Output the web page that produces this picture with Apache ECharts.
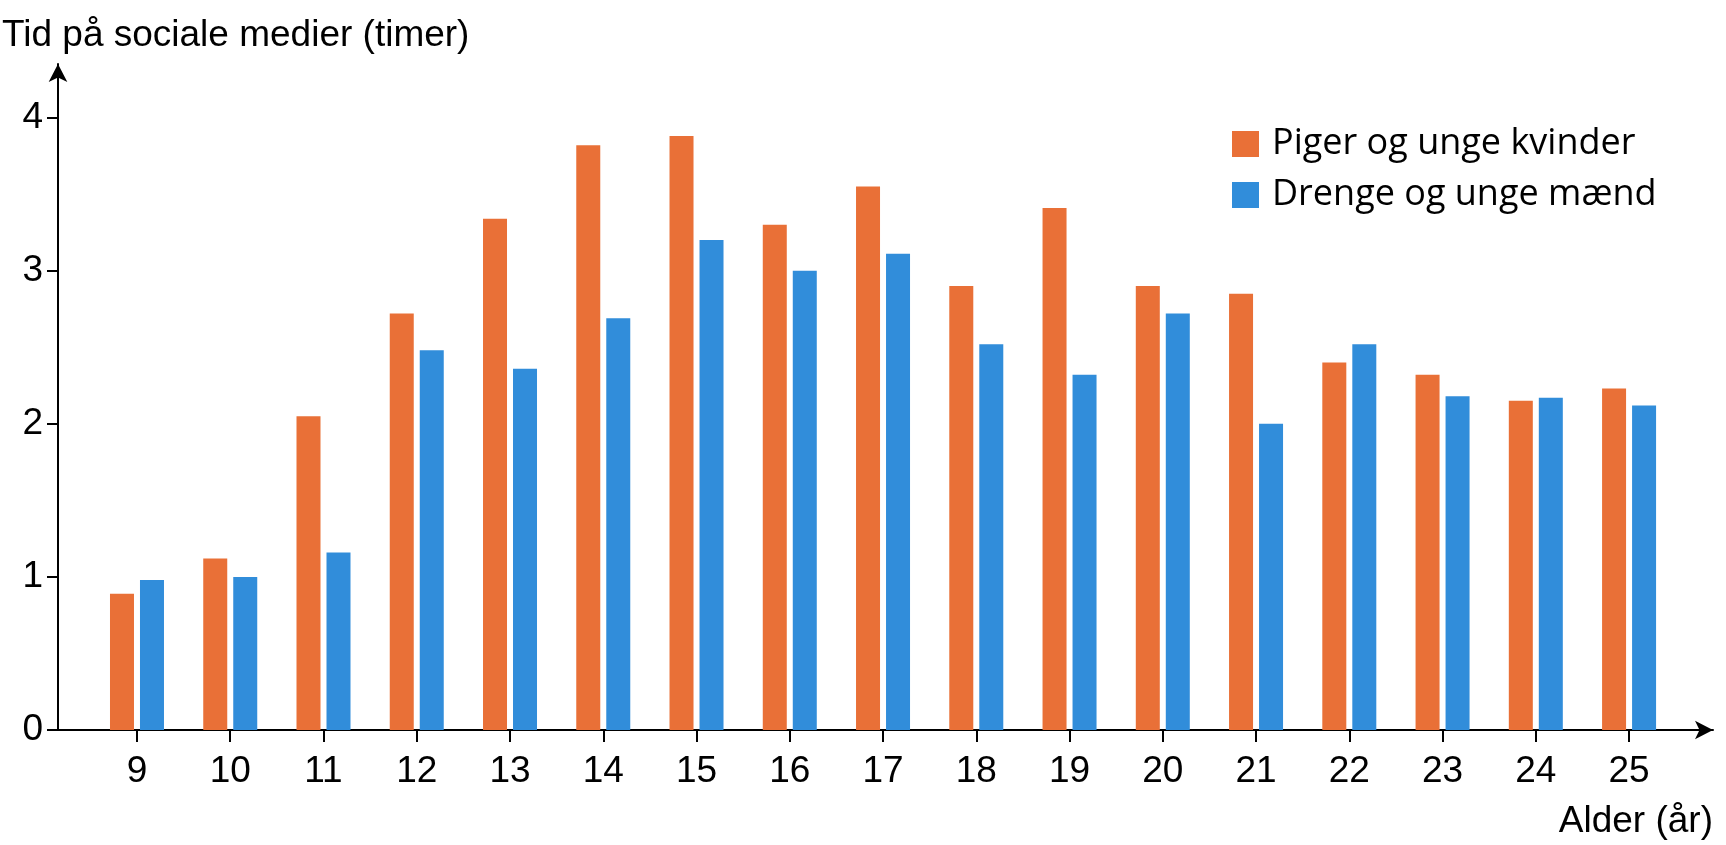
<!DOCTYPE html>
<html>
<head>
<meta charset="utf-8">
<script src="https://cdn.jsdelivr.net/npm/echarts@6/dist/echarts.min.js"></script>
<style>
  html, body { margin: 0; padding: 0; background: #fff; }
  #chart { width: 1726px; height: 845px; }
</style>
</head>
<body>
<div id="chart"></div>
<script>
// data
const ages = [9, 10, 11, 12, 13, 14, 15, 16, 17, 18, 19, 20, 21, 22, 23, 24, 25];
const piger = [0.89, 1.12, 2.05, 2.72, 3.34, 3.82, 3.88, 3.30, 3.55, 2.90, 3.41, 2.90, 2.85, 2.40, 2.32, 2.15, 2.23];
const drenge = [0.98, 1.00, 1.16, 2.48, 2.36, 2.69, 3.20, 3.00, 3.11, 2.52, 2.32, 2.72, 2.00, 2.52, 2.18, 2.17, 2.12];
const yTicks = [0, 1, 2, 3, 4];
const seriesNames = ['Piger og unge kvinder', 'Drenge og unge mænd'];
const yTitle = 'Tid på sociale medier (timer)';
const xTitle = 'Alder (år)';

const ORANGE = '#E97037';
const BLUE = '#318DDA';
const axisFont = '"Liberation Sans", Arial, sans-serif';

const chart = echarts.init(document.getElementById('chart'));

const axisLine = {
  show: true,
  lineStyle: { color: '#000', width: 2 },
  symbol: ['none', 'arrow'],
  symbolSize: [14, 18]
};

chart.setOption({
  animation: false,
  backgroundColor: '#fff',
  grid: {
    left: 58,
    right: 13,
    top: 64,
    bottom: 115,
    containLabel: false,
    outerBoundsMode: 'none'
  },
  legend: {
    orient: 'vertical',
    left: 1232,
    top: 126,
    padding: 0,
    itemWidth: 27,
    itemHeight: 26,
    itemGap: 15,
    icon: 'rect',
    data: seriesNames,
    textStyle: {
      fontFamily: '"Open Sans", sans-serif',
      fontSize: 36,
      lineHeight: 36,
      color: '#000',
      padding: [0, 0, 0, 8]
    }
  },
  xAxis: {
    type: 'value',
    min: 8.153,
    max: 25.9,
    splitLine: { show: false },
    axisLine: axisLine,
    axisTick: {
      show: true,
      length: 12,
      lineStyle: { color: '#000', width: 2 },
      customValues: ages
    },
    axisLabel: {
      customValues: ages,
      margin: 23,
      fontFamily: axisFont,
      fontSize: 37,
      color: '#000'
    }
  },
  yAxis: {
    type: 'value',
    min: 0,
    max: 4.35,
    splitLine: { show: false },
    axisLine: axisLine,
    axisTick: {
      show: true,
      inside: false,
      length: 11,
      lineStyle: { color: '#000', width: 2 },
      customValues: yTicks
    },
    axisLabel: {
      customValues: yTicks,
      margin: 15,
      fontFamily: axisFont,
      fontSize: 37,
      color: '#000'
    }
  },
  series: [
    {
      name: seriesNames[0],
      type: 'bar',
      barWidth: 24,
      barGap: '25%',
      itemStyle: { color: ORANGE },
      data: ages.map((a, i) => [a, piger[i]])
    },
    {
      name: seriesNames[1],
      type: 'bar',
      barWidth: 24,
      barGap: '25%',
      itemStyle: { color: BLUE },
      data: ages.map((a, i) => [a, drenge[i]])
    }
  ],
  graphic: [
    {
      type: 'text',
      x: 2,
      y: 36,
      style: {
        text: yTitle,
        font: '37px ' + axisFont,
        fill: '#000',
        align: 'left',
        verticalAlign: 'middle'
      }
    },
    {
      type: 'text',
      x: 1713,
      y: 822,
      style: {
        text: xTitle,
        font: '37px ' + axisFont,
        fill: '#000',
        align: 'right',
        verticalAlign: 'middle'
      }
    }
  ]
});
</script>
</body>
</html>
